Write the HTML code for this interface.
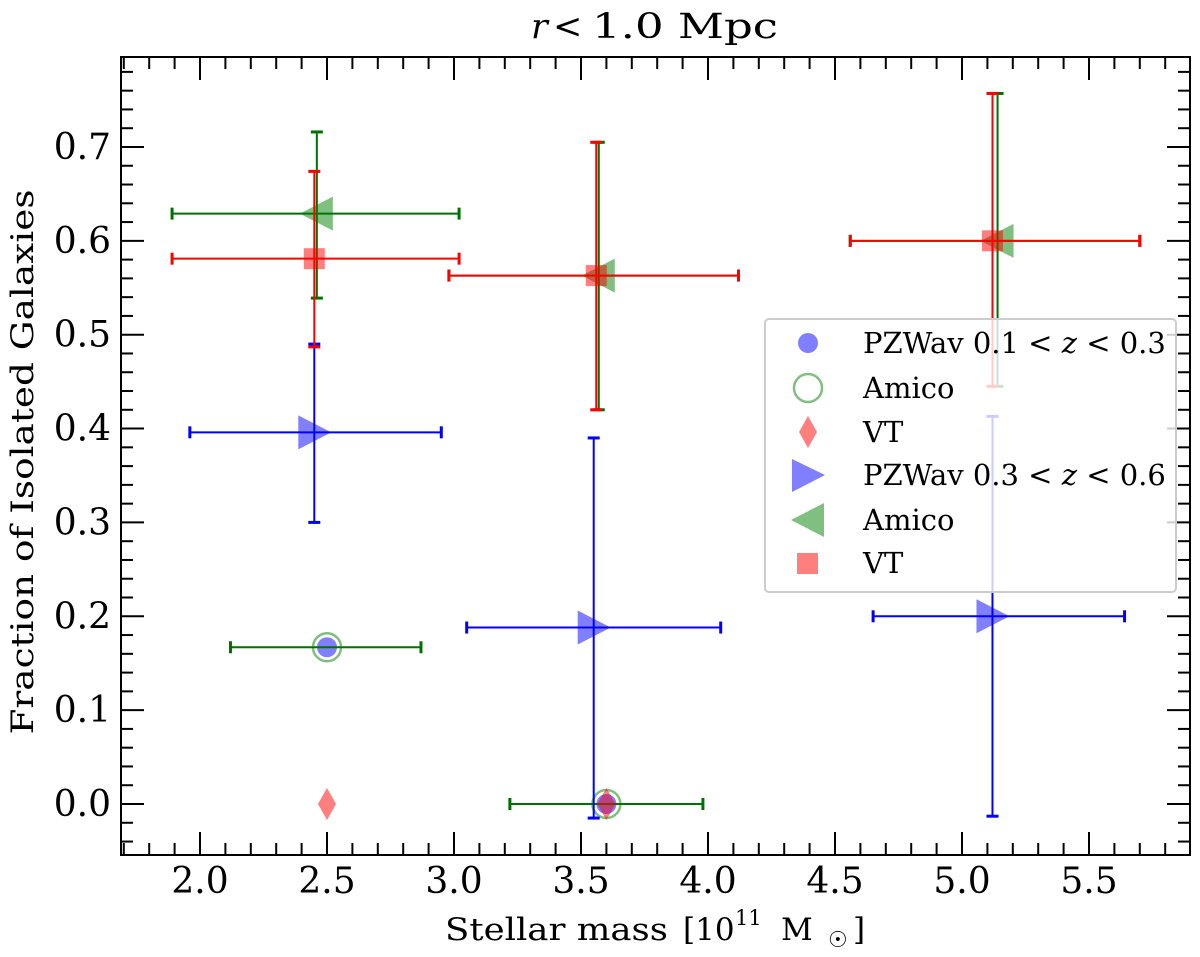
<!DOCTYPE html>
<html><head><meta charset="utf-8"><style>
body{margin:0;background:#fff}
svg{display:block;font-family:"DejaVu Serif","Liberation Serif",serif}
</style></head><body>
<svg id="chart" width="1200" height="957" viewBox="0 0 1200 957">
<g font-size="35">
<text x="531" y="38" font-style="italic">r</text>
<text x="553" y="38">&lt;</text>
<text x="592" y="38" textLength="186" lengthAdjust="spacingAndGlyphs">1.0 Mpc</text>
</g>
<g id="axes"></g>
<g id="marks"></g>
<g font-size="31">
<text x="445" y="940" textLength="223" lengthAdjust="spacingAndGlyphs">Stellar mass</text>
<text x="683" y="940">[10</text>
<text x="735" y="925" font-size="21">11</text>
<text x="781" y="940">M</text>
<text x="828" y="947" font-size="22">☉</text>
<text x="853" y="940">]</text>
</g>
<text transform="translate(33,462) rotate(-90)" font-size="31" text-anchor="middle" textLength="545" lengthAdjust="spacingAndGlyphs">Fraction of Isolated Galaxies</text>
<g>
<rect x="765" y="319" width="411" height="273" rx="4" fill="#fff" fill-opacity="0.8" stroke="#ccc" stroke-width="2"/>
<circle cx="808" cy="343" r="10" fill="#0000ff" fill-opacity="0.5"/>
<circle cx="808" cy="388" r="14" fill="none" stroke="#008000" stroke-opacity="0.5" stroke-width="2.5"/>
<polygon points="808,416 817,432 808,448 799,432" fill="#ff0000" fill-opacity="0.5"/>
<polygon points="792,459 825,475 792,492" fill="#0000ff" fill-opacity="0.5"/>
<polygon points="824,503 791,520 824,537" fill="#008000" fill-opacity="0.5"/>
<rect x="797" y="553" width="21" height="21" fill="#ff0000" fill-opacity="0.5"/>
<g font-size="29">
<text x="863" y="353">PZWav 0.1 &lt; <tspan font-style="italic">z</tspan> &lt; 0.3</text>
<text x="863" y="398">Amico</text>
<text x="863" y="442">VT</text>
<text x="863" y="485">PZWav 0.3 &lt; <tspan font-style="italic">z</tspan> &lt; 0.6</text>
<text x="863" y="530">Amico</text>
<text x="863" y="573">VT</text>
</g></g>
</svg>
<script>
const xTicks=[2.0,2.5,3.0,3.5,4.0,4.5,5.0,5.5];
const yTicks=[0.0,0.1,0.2,0.3,0.4,0.5,0.6,0.7];
const pzLowX=[2.5,3.6], pzLowY=[0.167,0.0];
const amLowX=[2.5,3.6], amLowY=[0.167,0.0], amLowXlo=[2.12,3.22], amLowXhi=[2.87,3.98];
const vtLowX=[2.5,3.6], vtLowY=[0.0,0.0];
const pzHiX=[2.45,3.55,5.12], pzHiY=[0.396,0.188,0.200], pzHiXlo=[1.96,3.05,4.65], pzHiXhi=[2.95,4.05,5.64], pzHiYlo=[0.300,-0.015,-0.013], pzHiYhi=[0.490,0.390,0.413];
const amHiX=[2.46,3.57,5.14], amHiY=[0.629,0.563,0.600], amHiXlo=[1.89,2.98,4.56], amHiXhi=[3.02,4.12,5.70], amHiYlo=[0.539,0.420,0.445], amHiYhi=[0.716,0.705,0.757];
const vtHiX=[2.45,3.56,5.12], vtHiY=[0.581,0.563,0.600], vtHiXlo=[1.89,2.98,4.56], vtHiXhi=[3.02,4.12,5.70], vtHiYlo=[0.487,0.420,0.445], vtHiYhi=[0.674,0.705,0.757];

const L=121,R=1190,T=57,B=855;
const X=v=>200+(v-2)*254;
const Y=v=>804-v*938.6;
const NS='http://www.w3.org/2000/svg';
const axes=document.getElementById('axes'), marks=document.getElementById('marks');
function mk(t,a,p){const e=document.createElementNS(NS,t);for(const k in a)e.setAttribute(k,a[k]);(p||marks).appendChild(e);return e;}
const frame=mk('rect',{x:L,y:T,width:R-L,height:B-T,fill:'none',stroke:'#000','stroke-width':2},axes);


for(let v=1.7;v<=5.91;v+=0.1){const x=X(v);if(x<L||x>R)continue;
 const maj=xTicks.some(t=>Math.abs(t-v)<1e-6);const len=maj?23:12;
 mk('line',{x1:x,x2:x,y1:B,y2:B-len,stroke:'#000','stroke-width':2},axes);
 mk('line',{x1:x,x2:x,y1:T,y2:T+len,stroke:'#000','stroke-width':2},axes);}
for(let i=-3;i<=40;i++){const v=i*0.02;const y=Y(v);if(y<T||y>B)continue;
 const maj=i%5===0;const len=maj?23:12;
 mk('line',{x1:L,x2:L+len,y1:y,y2:y,stroke:'#000','stroke-width':2},axes);
 mk('line',{x1:R,x2:R-len,y1:y,y2:y,stroke:'#000','stroke-width':2},axes);}
xTicks.forEach(v=>{const t=mk('text',{x:X(v),y:893,'font-size':36,'text-anchor':'middle'},axes);t.textContent=v.toFixed(1);
 
 });
yTicks.forEach(v=>{const t=mk('text',{x:111,y:Y(v)+12,'font-size':36,'text-anchor':'end'},axes);t.textContent=v.toFixed(1);
 
 });
function err(c,x,y,xlo,xhi,ylo,yhi){
 const a={stroke:c,'stroke-width':2};
 if(xlo!=null){mk('line',Object.assign({x1:X(xlo),x2:X(xhi),y1:Y(y),y2:Y(y)},a));
  [xlo,xhi].forEach(v=>mk('line',Object.assign({x1:X(v),x2:X(v),y1:Y(y)-6,y2:Y(y)+6},a,{'stroke-width':3})));}
 if(ylo!=null){mk('line',Object.assign({x1:X(x),x2:X(x),y1:Y(ylo),y2:Y(yhi)},a));
  [ylo,yhi].forEach(v=>mk('line',Object.assign({x1:X(x)-6,x2:X(x)+6,y1:Y(v),y2:Y(v)},a,{'stroke-width':3})));}
}
pzLowX.forEach((v,i)=>{const e=mk('circle',{cx:X(v),cy:Y(pzLowY[i]),r:10,fill:'#0000ff','fill-opacity':0.5});
 
 });
amLowX.forEach((v,i)=>{err('#007000',v,amLowY[i],amLowXlo[i],amLowXhi[i],null,null);
 const e=mk('circle',{cx:X(v),cy:Y(amLowY[i]),r:14,fill:'none',stroke:'#008000','stroke-opacity':0.5,'stroke-width':2.5});
 
 });
vtLowX.forEach((v,i)=>{const x=X(v),y=Y(vtLowY[i]);
 const e=mk('polygon',{points:`${x},${y-16} ${x+9},${y} ${x},${y+16} ${x-9},${y}`,fill:'#ff0000','fill-opacity':0.5});
 
 });
pzHiX.forEach((v,i)=>{err('#0000ff',v,pzHiY[i],pzHiXlo[i],pzHiXhi[i],pzHiYlo[i],pzHiYhi[i]);
 const x=X(v),y=Y(pzHiY[i]);
 const e=mk('polygon',{points:`${x-16},${y-17} ${x+17},${y} ${x-16},${y+17}`,fill:'#0000ff','fill-opacity':0.5});
 
 });
amHiX.forEach((v,i)=>{err('#007000',v,amHiY[i],amHiXlo[i],amHiXhi[i],amHiYlo[i],amHiYhi[i]);
 const x=X(v),y=Y(amHiY[i]);
 const e=mk('polygon',{points:`${x+16},${y-17} ${x-17},${y} ${x+16},${y+17}`,fill:'#008000','fill-opacity':0.5});
 
 });
vtHiX.forEach((v,i)=>{err('#ff0000',v,vtHiY[i],vtHiXlo[i],vtHiXhi[i],vtHiYlo[i],vtHiYhi[i]);
 const x=X(v),y=Y(vtHiY[i]);
 const e=mk('rect',{x:x-10.5,y:y-10.5,width:21,height:21,fill:'#ff0000','fill-opacity':0.5});
 
 });
</script>
</body></html>
